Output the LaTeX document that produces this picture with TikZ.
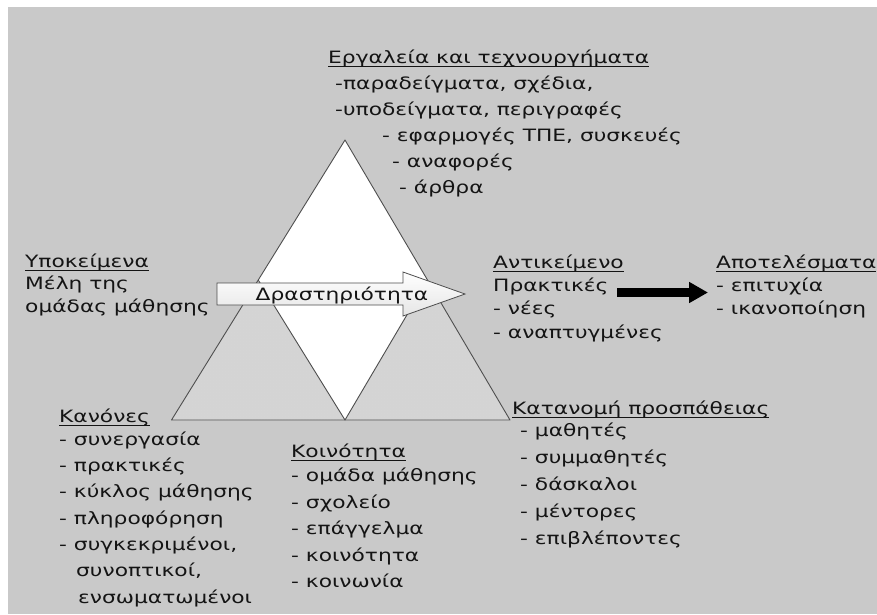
\documentclass[tikz,border=0pt]{standalone}
\usepackage{fontspec}
\setmainfont{DejaVu Sans}[FakeStretch=1.28]
\usetikzlibrary{calc,arrows.meta,patterns}

\definecolor{panel}{HTML}{C9C9C9}
\definecolor{lowfill}{HTML}{D4D4D4}
\definecolor{edge}{HTML}{4E4E4E}
\definecolor{ink}{HTML}{141414}

% underlined heading: a rule just under the baseline
\newsavebox\hdbox
\newcommand\hd[1]{\sbox\hdbox{#1}\rlap{\rule[-4.4pt]{\wd\hdbox}{1.3pt}}\usebox\hdbox}
% a block of lines whose baseline is that of its first line
\newcommand\textlines[1]{\begin{tabular}[t]{@{}l@{}}#1\end{tabular}}

\begin{document}
\begin{tikzpicture}[x=1pt,y=-1pt,
  txt/.style={anchor=base west, inner sep=0pt, text=ink},
  sk/.style={font=\fontsize{17}{#1}\selectfont},
  tri/.style={draw=edge, line width=0.9pt, line join=round},
  lowpart/.style={fill=lowfill},
  stipple/.style={pattern=dots, pattern color=black!15},
  blockarrow/.style={draw=edge, line width=0.8pt, top color=white, bottom color=black!10},
  outarrow/.style={draw=black, line width=8.3pt, -{Triangle[length=19pt,width=20pt]}}]

  % canvas
  \useasboundingbox (0,0) rectangle (877,614);
  \fill[white] (0,0) rectangle (877,614);
  \fill[panel] (8,7) rectangle (877,614);

  % activity triangle
  \coordinate (apex) at (345,140);
  \coordinate (bl) at (171.5,420);
  \coordinate (br) at (510,420);
  \coordinate (mb) at (345,420);
  \coordinate (ml) at ($(apex)!0.5!(bl)$);
  \coordinate (mr) at ($(apex)!0.5!(br)$);

  \fill[white] (apex) -- (bl) -- (br) -- cycle;
  \fill[lowpart] (ml) -- (bl) -- (mb) -- cycle;
  \fill[lowpart] (mr) -- (mb) -- (br) -- cycle;
  \fill[stipple] (ml) -- (bl) -- (mb) -- cycle;
  \fill[stipple] (mr) -- (mb) -- (br) -- cycle;
  \draw[tri] (apex) -- (bl) -- (br) -- cycle;
  \draw[tri] (ml) -- (mb) -- (mr);

  % activity arrow
  \draw[blockarrow] (217,283) -- (403,283) -- (403,272) -- (465,294)
        -- (403,316) -- (403,305) -- (217,305) -- cycle;
  \node[txt, anchor=base, sk=20] (act) at (342,300) {Δραστηριότητα};

  % tools
  \node[txt, sk=26] (tools) at (328,63) {\textlines{\hd{Εργαλεία και τεχνουργήματα}\\
    \hspace*{7pt}-παραδείγματα, σχέδια,\\
    \hspace*{7pt}-υποδείγματα, περιγραφές\\
    \hspace*{54pt}- εφαρμογές ΤΠΕ, συσκευές\\
    \hspace*{64pt}- αναφορές\\
    \hspace*{71pt}- άρθρα}};

  % subject
  \node[txt, sk=22.5] (subj) at (25,267) {\textlines{\hd{Υποκείμενα}\\
    Μέλη της\\
    ομάδας μάθησης}};

  % object
  \node[txt, sk=23.4] (obj) at (493,268) {\textlines{\hd{Αντικείμενο}\\
    Πρακτικές\\
    - νέες\\
    - αναπτυγμένες}};

  % outcome
  \node[txt, sk=23.4] (outc) at (716,268) {\textlines{\hd{Αποτελέσματα}\\
    - επιτυχία\\
    - ικανοποίηση}};

  \coordinate (o1) at (617,292.5);
  \coordinate (o2) at (708,292.5);
  \draw[outarrow] (o1) -- (o2);

  % rules
  \node[txt, sk=26.3] (rules) at (59,422) {\textlines{\hd{Κανόνες}\\[-3pt]
    - συνεργασία\\
    - πρακτικές\\
    - κύκλος μάθησης\\
    - πληροφόρηση\\
    - συγκεκριμένοι,\\
    \hspace*{17pt}συνοπτικοί,\\
    \hspace*{19pt}ενσωματωμένοι}};

  % community
  \node[txt, sk=26.5] (comm) at (291,457) {\textlines{\hd{Κοινότητα}\\[-2pt]
    - ομάδα μάθησης\\
    - σχολείο\\
    - επάγγελμα\\
    - κοινότητα\\
    - κοινωνία}};

  % division of labour
  \node[txt, sk=26.8] (div) at (512,414) {\textlines{\hd{Κατανομή προσπάθειας}\\[-4pt]
    \hspace*{8pt}- μαθητές\\
    \hspace*{8pt}- συμμαθητές\\
    \hspace*{8pt}- δάσκαλοι\\
    \hspace*{8pt}- μέντορες\\
    \hspace*{8pt}- επιβλέποντες}};
\end{tikzpicture}
\end{document}
